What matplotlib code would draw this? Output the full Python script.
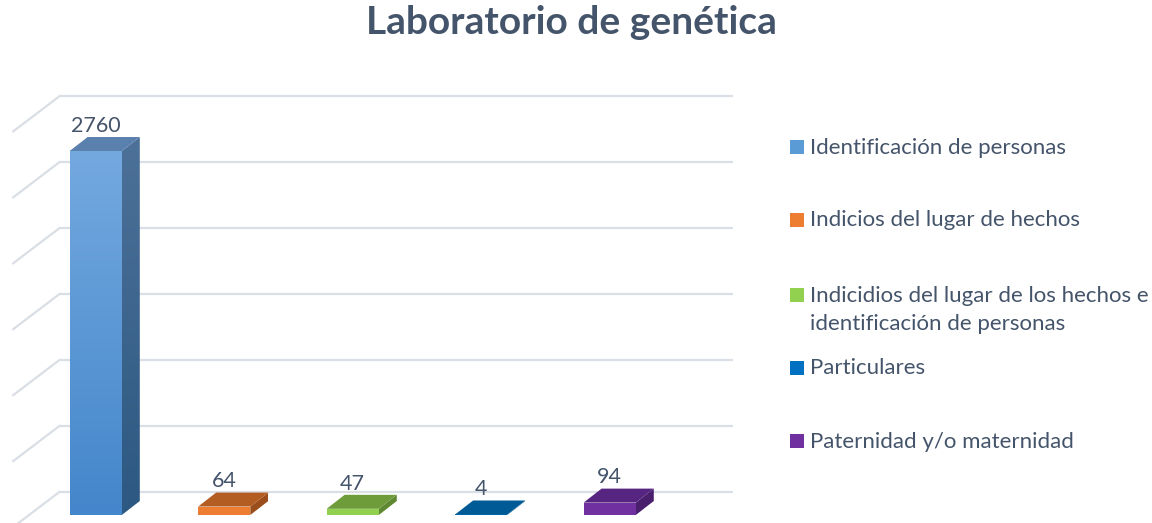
import matplotlib
matplotlib.use("Agg")
import matplotlib.pyplot as plt
import numpy as np
from matplotlib.patches import Polygon, Rectangle
from matplotlib.colors import to_rgb

plt.rcParams['font.family'] = ['Lato', 'DejaVu Sans']

categories = ['Identificación de personas',
              'Indicios del lugar de hechos',
              'Indicidios del lugar de los hechos e\nidentificación de personas',
              'Particulares',
              'Paternidad y/o maternidad']
values = [2760, 64, 47, 4, 94]
grid_values = [0, 500, 1000, 1500, 2000, 2500, 3000]

# front (top, bottom), side (top, bottom), top face, legend swatch
front_cols = [('#73a9df', '#4486cb'), ('#ee7e32', '#ed7d31'), ('#93d152', '#92d050'),
              ('#0071c1', '#0070c0'), ('#7131a1', '#7030a0')]
side_cols = [('#4d7199', '#2c5881'), ('#9c4f1c', '#9a4e1b'), ('#5f8a32', '#5e8932'),
             ('#004d80', '#004d80'), ('#4a1f6e', '#4a1f6e')]
top_cols = ['#5a80ad', '#b45d22', '#6f9c3b', '#005a96', '#562481']
legend_cols = ['#5b9bd5', '#ed7d31', '#92d050', '#0070c0', '#7030a0']

text_col = '#44546a'
grid_col = '#dadee5'

W, H = 1152, 523
fig = plt.figure(figsize=(W / 100, H / 100), dpi=100)
ax = fig.add_axes([0, 0, 740 / W, 1])

half_w = 0.203
dep_x, dep_y = 0.14, 106      # bar depth (oblique)
wall_x, wall_y = 0.233, 174   # back wall offset
xlim = (-0.745, 5.014)
ylim = (-60.7, 3905)


def grad_fill(verts, c_top, c_bot, z):
    poly = Polygon(verts, closed=True, facecolor='none', edgecolor='none', zorder=z)
    ax.add_patch(poly)
    xs = [p[0] for p in verts]
    ys = [p[1] for p in verts]
    t = np.linspace(0, 1, 128)[:, None]
    img = np.array(to_rgb(c_bot)) * (1 - t) + np.array(to_rgb(c_top)) * t
    im = ax.imshow(img[:, None, :], extent=[min(xs), max(xs), min(ys), max(ys)],
                   origin='lower', aspect='auto', interpolation='bilinear', zorder=z)
    im.set_clip_path(poly)


# back wall grid
for g in grid_values:
    yy = g + wall_y
    ax.plot([-0.284, 4.961], [yy, yy], color=grid_col, lw=1.6, zorder=1, solid_capstyle='butt')
    ax.plot([-0.642, -0.284], [yy - 265, yy], color=grid_col, lw=1.6, zorder=1)

# 3d bars
for i, v in enumerate(values):
    x0, x1 = i - half_w, i + half_w
    front = [(x0, 0), (x1, 0), (x1, v), (x0, v)]
    side = [(x1, 0), (x1 + dep_x, dep_y), (x1 + dep_x, v + dep_y), (x1, v)]
    top = [(x0, v), (x1, v), (x1 + dep_x, v + dep_y), (x0 + dep_x, v + dep_y)]
    grad_fill(side, side_cols[i][0], side_cols[i][1], 3)
    if v > 0:
        grad_fill(front, front_cols[i][0], front_cols[i][1], 4)
    ax.add_patch(Polygon(top, closed=True, facecolor=top_cols[i], edgecolor='none', zorder=4))
    ax.text(i, v + dep_y + 85, str(v), ha='center', va='center', fontsize=15.5, color=text_col, zorder=5)

ax.set_xlim(*xlim)
ax.set_ylim(*ylim)
ax.axis('off')


def fx(px):
    return px / W


def fy(py):
    return 1 - py / H


fig.text(fx(571), fy(34), 'Laboratorio de genética', ha='center', va='baseline',
         fontsize=28, fontweight='bold', color=text_col)

# legend
leg_y = [147, 220, 295, 368, 441]
for lab, col, yc in zip(categories, legend_cols, leg_y):
    fig.patches.append(Rectangle((fx(790), fy(yc + 7)), 14 / W, 14 / H, transform=fig.transFigure,
                                 facecolor=col, edgecolor='none'))
    lines = lab.split('\n')
    for k, line in enumerate(lines):
        fig.text(fx(810), fy(yc + 6.5 + k * 28), line, ha='left', va='baseline',
                 fontsize=16, color=text_col)

fig.savefig('out.png', dpi=100, facecolor='white')
